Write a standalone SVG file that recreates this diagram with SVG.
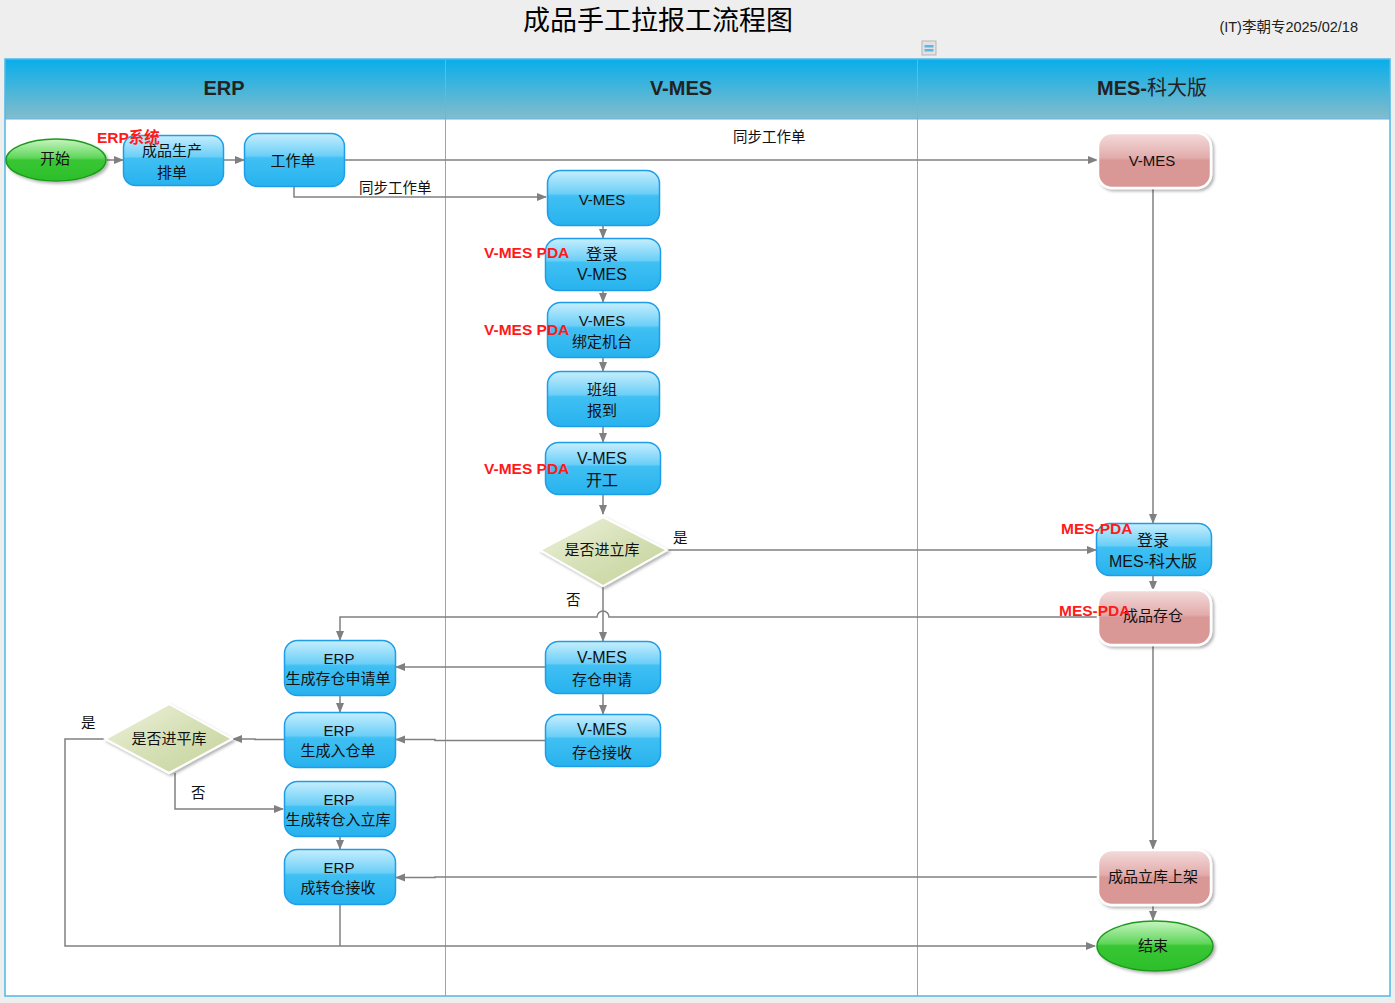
<svg xmlns="http://www.w3.org/2000/svg" width="1395" height="1003" viewBox="0 0 1395 1003">
<defs>
<linearGradient id="hdr" x1="0" y1="0" x2="0" y2="1">
<stop offset="0" stop-color="#08aeea"/><stop offset="1" stop-color="#84bccb"/>
</linearGradient>
<linearGradient id="blue" x1="0" y1="0" x2="0" y2="1">
<stop offset="0" stop-color="#c6eefd"/><stop offset="0.42" stop-color="#6ccff8"/><stop offset="0.46" stop-color="#40c0f3"/><stop offset="1" stop-color="#27b2ee"/>
</linearGradient>
<linearGradient id="pink" x1="0" y1="0" x2="0" y2="1">
<stop offset="0" stop-color="#f4dcdc"/><stop offset="0.45" stop-color="#e2acab"/><stop offset="0.5" stop-color="#d99896"/><stop offset="1" stop-color="#d99896"/>
</linearGradient>
<linearGradient id="green" x1="0" y1="0" x2="0" y2="1">
<stop offset="0" stop-color="#c8f5c0"/><stop offset="0.45" stop-color="#5fd65a"/><stop offset="0.5" stop-color="#38c634"/><stop offset="1" stop-color="#2cbf2a"/>
</linearGradient>
<linearGradient id="dia" x1="0" y1="0" x2="1" y2="1">
<stop offset="0" stop-color="#eef3e0"/><stop offset="0.5" stop-color="#d6e0b6"/><stop offset="1" stop-color="#c4d39a"/>
</linearGradient>
<filter id="sh" x="-20%" y="-20%" width="150%" height="150%">
<feDropShadow dx="2" dy="2" stdDeviation="1.5" flood-color="#000" flood-opacity="0.3"/>
</filter>
<marker id="ar" markerWidth="10" markerHeight="10" refX="9" refY="5" orient="auto" markerUnits="userSpaceOnUse">
<path d="M0,1 L10,5 L0,9 Z" fill="#808080"/>
</marker>
<style>
.t{font-family:"Liberation Sans","Noto Sans CJK SC",sans-serif;font-size:15px;fill:#111;text-anchor:middle;dominant-baseline:central}
.t2{font-family:"Liberation Sans","Noto Sans CJK SC",sans-serif;font-size:16px;fill:#111;text-anchor:middle;dominant-baseline:central}
.lbl{font-family:"Liberation Sans","Noto Sans CJK SC",sans-serif;font-size:14.5px;fill:#111;dominant-baseline:central}
.red{font-family:"Liberation Sans","Noto Sans CJK SC",sans-serif;font-size:15.5px;font-weight:bold;fill:#ff1a1a;dominant-baseline:central}
.hd{font-family:"Liberation Sans","Noto Sans CJK SC",sans-serif;font-size:20px;font-weight:bold;fill:#222;text-anchor:middle;dominant-baseline:central}
.bn{fill:url(#blue);stroke:#1f9de8;stroke-width:1.5}
.pn{fill:url(#pink);stroke:#fff;stroke-width:2.5;filter:url(#sh)}
.gn{fill:url(#green);stroke:#1e9a1e;stroke-width:1.5;filter:url(#sh)}
.dn{fill:url(#dia);stroke:#fff;stroke-width:2;filter:url(#sh)}
.c{fill:none;stroke:#808080;stroke-width:1.5}
.ca{fill:none;stroke:#808080;stroke-width:1.5;marker-end:url(#ar)}
</style>
</defs>
<rect x="0" y="0" width="1395" height="1003" fill="#eeeeee"/>
<text x="658" y="18" font-family="Noto Sans CJK SC, sans-serif" font-size="27" fill="#000" text-anchor="middle" dominant-baseline="central">成品手工拉报工流程图</text>
<text x="1358" y="27" font-family="Liberation Sans, Noto Sans CJK SC, sans-serif" font-size="14.5" fill="#222" text-anchor="end" dominant-baseline="central">(IT)李朝专2025/02/18</text>
<g id="icon">
<rect x="922" y="41" width="14" height="14" fill="#e2e2e2" stroke="#b5b5b5"/>
<rect x="924.5" y="45" width="9" height="2.5" fill="#5ab8e2"/>
<rect x="924.5" y="49" width="9" height="2.5" fill="#5ab8e2"/>
</g>
<g id="pool">
<rect x="5" y="59" width="1385" height="937" fill="#fff"/>
<rect x="5" y="59" width="1385" height="60" fill="url(#hdr)"/>
<line x1="5" y1="119" x2="1390" y2="119" stroke="#5ab8e6" stroke-width="1"/>
<line x1="445.5" y1="59" x2="445.5" y2="996" stroke="#6ab4e0" stroke-width="1"/>
<line x1="917.5" y1="59" x2="917.5" y2="996" stroke="#6ab4e0" stroke-width="1"/>
<rect x="5" y="59" width="1385" height="937" fill="none" stroke="#4db8e8" stroke-width="1.5"/>
<text class="hd" x="224" y="88">ERP</text>
<text class="hd" x="681" y="88">V-MES</text>
<text class="hd" x="1152" y="88">MES-<tspan font-weight="normal">科大版</tspan></text>
</g>
<g id="connectors">
<path class="ca" d="M107,160 H123"/>
<path class="ca" d="M223,160 H244"/>
<path class="ca" d="M344,160 H1097"/>
<path class="ca" d="M294,186 V197 H546"/>
<path class="ca" d="M603,226 V238"/>
<path class="ca" d="M603,290 V302"/>
<path class="ca" d="M603,357 V371"/>
<path class="ca" d="M603,426 V442"/>
<path class="ca" d="M603,494 V514"/>
<path class="ca" d="M667,550 H1096"/>
<path class="ca" d="M1153,188 V523"/>
<path class="ca" d="M1153,576 V590"/>
<path class="ca" d="M1098,617 H609 A6,6 0 0 0 597,617 H340 V640"/>
<path class="ca" d="M603,586 V641"/>
<path class="ca" d="M545,667 H396"/>
<path class="ca" d="M603,694 V714"/>
<path class="ca" d="M545,740.5 H435 V739.5 H396"/>
<path class="ca" d="M340,695 V712"/>
<path class="ca" d="M284,739.5 H255 V739 H233"/>
<path class="ca" d="M105,739 H65 V946 H1095"/>
<path class="ca" d="M175,773 V809 H283"/>
<path class="ca" d="M340,836 V849"/>
<path class="c" d="M340,904 V946"/>
<path class="ca" d="M1153,645 V849"/>
<path class="ca" d="M1098,877 H435 V877.5 H396"/>
<path class="ca" d="M1153,905 V920"/>
<text class="lbl" x="733" y="137">同步工作单</text>
<text class="lbl" x="359" y="188">同步工作单</text>
<text class="lbl" x="673" y="538">是</text>
<text class="lbl" x="566" y="600">否</text>
<text class="lbl" x="81" y="723">是</text>
<text class="lbl" x="191" y="793">否</text>
</g>
<g id="n-start"><ellipse class="gn" cx="56" cy="160" rx="50" ry="21"/><text class="t" x="55" y="158">开始</text></g>
<g id="n-plan"><rect class="bn" x="123.5" y="135.5" width="100" height="50" rx="12"/><text class="t" x="172" y="150">成品生产</text><text class="t" x="172" y="172">排单</text></g>
<g id="n-wo"><rect class="bn" x="244.5" y="133.5" width="100" height="53" rx="13"/><text class="t" x="293" y="160">工作单</text></g>
<g id="n-vmes"><rect class="bn" x="547.5" y="170.5" width="112" height="55" rx="13"/><text class="t" x="602" y="199">V-MES</text></g>
<g id="n-login"><rect class="bn" x="545.5" y="238.5" width="115" height="52" rx="13"/><text class="t2" x="602" y="254">登录</text><text class="t2" x="602" y="274">V-MES</text></g>
<g id="n-bind"><rect class="bn" x="547.5" y="302.5" width="112" height="55" rx="13"/><text class="t" x="602" y="320">V-MES</text><text class="t" x="602" y="341">绑定机台</text></g>
<g id="n-team"><rect class="bn" x="547.5" y="371.5" width="112" height="55" rx="13"/><text class="t" x="602" y="389">班组</text><text class="t" x="602" y="410">报到</text></g>
<g id="n-startwork"><rect class="bn" x="545.5" y="442.5" width="115" height="52" rx="13"/><text class="t2" x="602" y="458">V-MES</text><text class="t2" x="602" y="480">开工</text></g>
<g id="n-dec1"><polygon class="dn" points="603,517 667,550 603,586 540,550"/><text class="t" x="602" y="549">是否进立库</text></g>
<g id="n-vapply"><rect class="bn" x="545.5" y="641.5" width="115" height="52" rx="13"/><text class="t2" x="602" y="657">V-MES</text><text class="t" x="602" y="679">存仓申请</text></g>
<g id="n-vrecv"><rect class="bn" x="545.5" y="714.5" width="115" height="52" rx="13"/><text class="t2" x="602" y="729">V-MES</text><text class="t" x="602" y="752">存仓接收</text></g>
<g id="n-e1"><rect class="bn" x="284.5" y="640.5" width="111" height="55" rx="13"/><text class="t" x="339" y="658">ERP</text><text class="t" x="338" y="678">生成存仓申请单</text></g>
<g id="n-e2"><rect class="bn" x="284.5" y="712.5" width="111" height="55" rx="13"/><text class="t" x="339" y="730">ERP</text><text class="t" x="338" y="750">生成入仓单</text></g>
<g id="n-dec2"><polygon class="dn" points="169,704 232,739 169,773 105,739"/><text class="t" x="169" y="738">是否进平库</text></g>
<g id="n-e3"><rect class="bn" x="284.5" y="781.5" width="111" height="55" rx="13"/><text class="t" x="339" y="799">ERP</text><text class="t" x="338" y="819">生成转仓入立库</text></g>
<g id="n-e4"><rect class="bn" x="284.5" y="849.5" width="111" height="55" rx="13"/><text class="t" x="339" y="867">ERP</text><text class="t" x="338" y="887">成转仓接收</text></g>
<g id="n-mvmes"><rect class="pn" x="1098" y="133" width="113" height="55" rx="14"/><text class="t" x="1152" y="160">V-MES</text></g>
<g id="n-mlogin"><rect class="bn" x="1096.5" y="523.5" width="115" height="52" rx="13"/><text class="t2" x="1153" y="540">登录</text><text class="t2" x="1153" y="561">MES-科大版</text></g>
<g id="n-store"><rect class="pn" x="1098" y="590" width="113" height="55" rx="14"/><text class="t" x="1153" y="615">成品存仓</text></g>
<g id="n-shelf"><rect class="pn" x="1098" y="850" width="113" height="55" rx="14"/><text class="t" x="1153" y="876">成品立库上架</text></g>
<g id="n-end"><ellipse class="gn" cx="1155" cy="946" rx="58" ry="25"/><text class="t" x="1153" y="945">结束</text></g>
<g id="annotations">
<text class="red" x="97" y="137">ERP系统</text>
<text class="red" x="484" y="252">V-MES PDA</text>
<text class="red" x="484" y="329">V-MES PDA</text>
<text class="red" x="484" y="468">V-MES PDA</text>
<text class="red" x="1061" y="528">MES-PDA</text>
<text class="red" x="1059" y="610">MES-PDA</text>
</g>
</svg>
